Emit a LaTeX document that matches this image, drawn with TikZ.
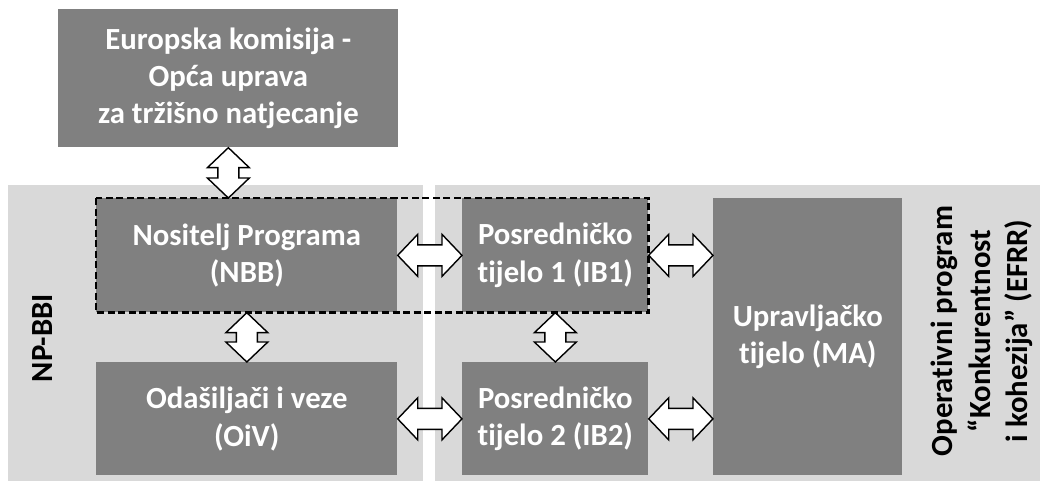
\documentclass[tikz,border=0pt]{standalone}
\usepackage{fontspec}
\setmainfont[Ligatures=NoCommon]{Carlito}
\usetikzlibrary{calc}

\begin{document}
\begin{tikzpicture}[
panel/.style={fill=black!15,anchor=north west,inner sep=0},
unit/.style={fill=black!50,anchor=north west,inner sep=0,text=white,align=center,font=\bfseries\fontsize{17.5}{21.3}\selectfont},
side/.style={rotate=90,align=center,font=\bfseries\fontsize{17.5}{21.3}\selectfont},
hlink/.style={draw=black,fill=white,line width=0.8pt,
  to path={let \p1=(\tikztostart),\p2=(\tikztotarget) in
  (\p1)--(\x1+0.4cm,\y1+0.42cm)--(\x1+0.4cm,\y1+0.21cm)--(\x2-0.4cm,\y1+0.21cm)--(\x2-0.4cm,\y1+0.42cm)
  --(\x2,\y1)--(\x2-0.4cm,\y1-0.42cm)--(\x2-0.4cm,\y1-0.21cm)--(\x1+0.4cm,\y1-0.21cm)--(\x1+0.4cm,\y1-0.42cm)--cycle}},
vlink/.style={draw=black,fill=white,line width=0.8pt,
  to path={let \p1=(\tikztostart),\p2=(\tikztotarget) in
  (\p1)--(\x1+0.42cm,\y1-0.4cm)--(\x1+0.21cm,\y1-0.4cm)--(\x1+0.21cm,\y2+0.4cm)--(\x1+0.42cm,\y2+0.4cm)
  --(\x1,\y2)--(\x1-0.42cm,\y2+0.4cm)--(\x1-0.21cm,\y2+0.4cm)--(\x1-0.21cm,\y1-0.4cm)--(\x1-0.42cm,\y1-0.4cm)--cycle}},
group/.style={draw=black,line width=1.4pt,dash pattern=on 4pt off 2pt},
]
\useasboundingbox(0,0)rectangle(20.8,-9.62);

%panels
\node[panel,minimum width=8.3cm,minimum height=5.92cm](left)at(0.16,-3.7){};
\node[panel,minimum width=12.1cm,minimum height=5.92cm](right)at(8.7,-3.7){};

%bodies
\node[unit,minimum width=6.8cm,minimum height=2.76cm](ec)at(1.16,-0.18){Europska komisija -\\Opća uprava\\za tržišno natjecanje};
\node[unit,minimum width=6.02cm,minimum height=2.28cm](nbb)at(1.92,-3.96){Nositelj Programa\\(NBB)};
\node[unit,minimum width=6.02cm,minimum height=2.26cm](oiv)at(1.92,-7.24){Odašiljači i veze\\(OiV)};
\node[unit,minimum width=3.72cm,minimum height=2.28cm](ib1)at(9.24,-3.96){Posredničko\\tijelo 1 (IB1)};
\node[unit,minimum width=3.72cm,minimum height=2.26cm](ib2)at(9.24,-7.24){Posredničko\\tijelo 2 (IB2)};
\node[unit,minimum width=3.78cm,minimum height=5.54cm](ma)at(14.26,-3.96){Upravljačko\\tijelo (MA)};

%dashed group
\draw[group](nbb.north west)rectangle(ib1.south east);

%side labels
\node[side](npbbi)at(0.86,-6.76){NP-BBI};
\node[side](op)at(19.64,-6.62){Operativni program\\“Konkurentnost\\i kohezija” (EFRR)};

%links
\draw[vlink](ec.south)to(nbb.north);
\draw[vlink](nbb.south)to(oiv.north);
\draw[vlink](ib1.south)to(ib2.north);
\draw[hlink](nbb.east)to(ib1.west);
\draw[hlink](oiv.east)to(ib2.west);
\draw[hlink](ib1.east)to(ma.west|-ib1.east);
\draw[hlink](ib2.east)to(ma.west|-ib2.east);

\end{tikzpicture}
\end{document}
